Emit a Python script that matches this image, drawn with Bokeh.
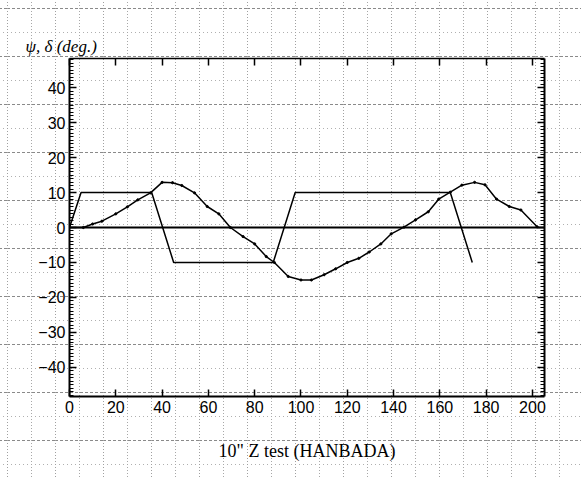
from urllib.parse import quote
from bokeh.plotting import figure
from bokeh.models import LinearAxis, SingleIntervalTicker, Span, Range1d
from bokeh.embed import file_html
from bokeh.resources import INLINE

# ---- data ----
delta_x = [0, 5, 35.5, 45, 88, 97.5, 164.5, 174]
delta_y = [0, 10, 10, -10, -10, 10, 10, -10]

psi_x = [0, 6, 10, 14, 20, 25, 29.5, 35, 40, 44.5, 48.5, 54, 59.5, 64.5, 69.5, 75, 80,
         85, 88.5, 94.5, 100, 104.5, 110, 115, 120, 125, 129.5, 134.5, 139, 144.5,
         149.5, 155, 159.5, 164.5, 169.5, 175, 179.5, 184.5, 190, 195, 202]
psi_y = [0, 0, 1.0, 1.8, 3.9, 5.9, 7.9, 9.9, 12.9, 12.8, 12.0, 9.9, 6.0, 3.9, 0, -2.6, -4.7,
         -8.3, -10.0, -14.0, -15.0, -15.0, -13.5, -11.8, -10.0, -8.8, -7.0, -4.7, -1.8, 0.1,
         2.2, 4.5, 8.1, 10.1, 12.1, 12.9, 12.2, 8.1, 6.0, 5.0, 0.2]

x_ticks = [0, 20, 40, 60, 80, 100, 120, 140, 160, 180, 200]
y_ticks = [-40, -30, -20, -10, 0, 10, 20, 30, 40]

LABEL_FONT = "Liberation Sans"
SERIF = "Liberation Serif"

p = figure(width=581, height=479, output_backend="svg", toolbar_location=None,
           x_range=Range1d(0, 205.2), y_range=Range1d(-48.3, 48.3),
           x_axis_location=None, y_axis_location=None,
           min_border_left=69, min_border_right=37, min_border_top=58, min_border_bottom=83,
           title="ψ, δ (deg.)")
p.background_fill_color = None
p.border_fill_color = None
p.outline_line_color = None
p.grid.visible = False

p.title.align = "left"
p.title.offset = -44
p.title.standoff = 5
p.title.text_font = SERIF
p.title.text_font_style = "italic"
p.title.text_font_size = "17px"
p.title.text_color = "black"


def style_axis(ax, minor=True, width=2):
    ax.axis_line_width = width
    ax.axis_line_color = "black"
    ax.major_tick_in = 7
    ax.major_tick_out = 0
    ax.major_tick_line_width = 1.5
    ax.major_tick_line_color = "black"
    if minor:
        ax.minor_tick_in = 4
        ax.minor_tick_out = 0
        ax.minor_tick_line_color = "black"
    else:
        ax.minor_tick_line_color = None
    ax.major_label_text_font = LABEL_FONT
    ax.major_label_text_font_size = "16px"
    ax.major_label_text_color = "black"
    ax.major_label_standoff = 4


# bottom axis
xb = LinearAxis(ticker=SingleIntervalTicker(interval=20, num_minor_ticks=0))
style_axis(xb, minor=False)
xb.axis_label = '10" Z test (HANBADA)'
xb.axis_label_text_font = SERIF
xb.axis_label_text_font_style = "normal"
xb.axis_label_text_font_size = "18px"
xb.axis_label_text_color = "black"
xb.axis_label_standoff = 25
p.add_layout(xb, "below")

# top axis (ticks only)
xt = LinearAxis(ticker=SingleIntervalTicker(interval=20, num_minor_ticks=0))
style_axis(xt, minor=False, width=1.5)
xt.major_label_overrides = {v: "" for v in x_ticks}
p.add_layout(xt, "above")

# left axis
yl = LinearAxis(ticker=SingleIntervalTicker(interval=10, num_minor_ticks=10))
style_axis(yl)
p.add_layout(yl, "left")

# right axis (ticks only)
yr = LinearAxis(ticker=SingleIntervalTicker(interval=10, num_minor_ticks=10))
style_axis(yr, width=2)
yr.major_label_overrides = {v: "" for v in y_ticks}
p.add_layout(yr, "right")

# zero line
p.add_layout(Span(location=0, dimension="width", line_color="black", line_width=2))

# rudder angle
p.line(delta_x, delta_y, line_color="black", line_width=1.5)
# heading
p.line(psi_x, psi_y, line_color="black", line_width=1.5)
p.scatter(psi_x[1:], psi_y[1:], size=2.2, color="black")

# graph-paper background
tile = ("<svg xmlns='http://www.w3.org/2000/svg' width='48' height='48'>"
        "<g fill='none' shape-rendering='crispEdges'>"
        "<path d='M0 0.5H48' stroke='#8a8a8a' stroke-dasharray='3 2'/>"
        "<path d='M0 24.5H48' stroke='#b0b0b0' stroke-dasharray='1 3'/>"
        "<path d='M0.5 0V48' stroke='#a0a0a0' stroke-dasharray='1 2'/>"
        "<path d='M24.5 0V48' stroke='#a8a8a8' stroke-dasharray='1 2'/>"
        "</g></svg>")
css = ("<style>html,body{margin:0;padding:0;background-color:#ffffff;"
       "background-image:url(\"data:image/svg+xml," + quote(tile) + "\");"
       "background-position:7px 8px;background-repeat:repeat;}</style>")

html = file_html(p, INLINE)
html = html.replace("</head>", css + "</head>", 1)
open("out.html", "w").write(html)
